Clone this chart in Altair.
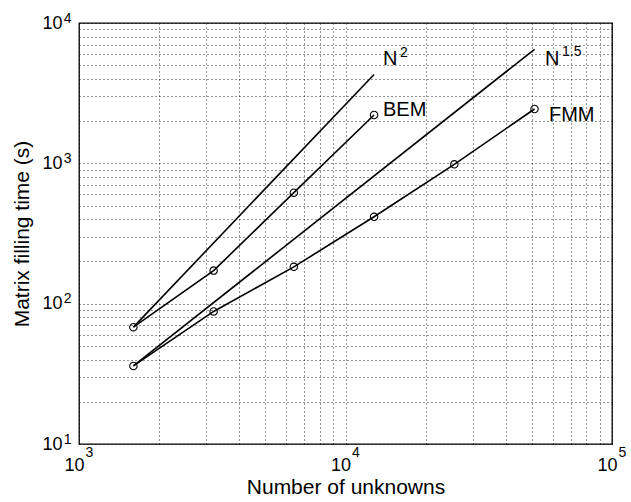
import altair as alt
import pandas as pd

# ---- data ----
n_bem = [1600, 3200, 6400, 12800]
t_bem = [68, 172, 618, 2210]
n_fmm = [1600, 3200, 6400, 12800, 25600, 51200]
t_fmm = [36, 88, 183, 416, 984, 2440]
n_n2 = [1600, 12800]
t_n2 = [68, 4300]
n_n15 = [1600, 51200]
t_n15 = [36, 6500]

# annotation anchors (data coordinates) and texts
lab_text = ["N", "BEM", "N", "FMM"]
lab_x = [13825, 13825, 56050, 58020]
lab_y = [5021, 2175, 5021, 2002]
sup_text = ["2", "1.5"]
sup_x = [16015, 64930]
sup_y = [5723, 5818]

x_ticks = [k * 10 ** e for e in (3, 4) for k in range(1, 10)] + [100000]
y_ticks = [k * 10 ** e for e in (1, 2, 3) for k in range(1, 10)] + [10000]
x_decades = [1000, 10000, 100000]
y_decades = [10, 100, 1000, 10000]

FONT = "Liberation Sans"

lines = pd.concat([
    pd.DataFrame({"n": n_bem, "t": t_bem, "s": "BEM"}),
    pd.DataFrame({"n": n_fmm, "t": t_fmm, "s": "FMM"}),
    pd.DataFrame({"n": n_n2, "t": t_n2, "s": "N2"}),
    pd.DataFrame({"n": n_n15, "t": t_n15, "s": "N15"}),
])
points = lines[lines["s"].isin(["BEM", "FMM"])]
labels = pd.DataFrame({"x": lab_x, "y": lab_y, "text": lab_text})
sups = pd.DataFrame({"x": sup_x, "y": sup_y, "text": sup_text})

xscale = alt.Scale(type="log", domain=[1000, 100000], nice=False)
yscale = alt.Scale(type="log", domain=[10, 10000], nice=False)

xaxis = alt.Axis(
    values=x_ticks, orient="bottom",
    labelExpr="datum.value == 1000 || datum.value == 10000 || datum.value == 100000 ? '10' : ''",
    title="Number of unknowns",
    labelPadding=12, labelOffset=-5, titlePadding=2,
)
yaxis = alt.Axis(
    values=y_ticks, orient="left",
    labelExpr="datum.value == 10 || datum.value == 100 || datum.value == 1000 || datum.value == 10000 ? '10' : ''",
    title="Matrix filling time (s)",
    labelPadding=17, titlePadding=9,
)
xexp = alt.Axis(
    values=x_decades, orient="bottom", grid=False, title=None,
    labelExpr="datum.value == 1000 ? '3' : datum.value == 10000 ? '4' : '5'",
    labelFontSize=14, labelPadding=1, labelOffset=10,
)
yexp = alt.Axis(
    values=y_decades, orient="left", grid=False, title=None,
    labelExpr="datum.value == 10 ? '1' : datum.value == 100 ? '2' : datum.value == 1000 ? '3' : '4'",
    labelFontSize=14, labelPadding=8, labelOffset=-5,
)

base_line = alt.Chart(lines).mark_line(color="black", strokeWidth=1.6).encode(
    x=alt.X("n:Q", scale=xscale, axis=xaxis),
    y=alt.Y("t:Q", scale=yscale, axis=yaxis),
    detail="s:N",
)
expo = alt.Chart(points).mark_point(opacity=0).encode(
    x=alt.X("n:Q", scale=xscale, axis=xexp),
    y=alt.Y("t:Q", scale=yscale, axis=yexp),
)
pts = alt.Chart(points).mark_point(
    shape="circle", filled=False, color="black", size=55, strokeWidth=1.1, opacity=1
).encode(x=alt.X("n:Q", scale=xscale, axis=None), y=alt.Y("t:Q", scale=yscale, axis=None))

txt = alt.Chart(labels).mark_text(
    align="left", baseline="alphabetic", fontSize=20, font=FONT, color="black"
).encode(x=alt.X("x:Q", scale=xscale, axis=None), y=alt.Y("y:Q", scale=yscale, axis=None), text="text:N")

stxt = alt.Chart(sups).mark_text(
    align="left", baseline="alphabetic", fontSize=14, font=FONT, color="black"
).encode(x=alt.X("x:Q", scale=xscale, axis=None), y=alt.Y("y:Q", scale=yscale, axis=None), text="text:N")

chart = alt.layer(base_line, expo, pts, txt, stxt).resolve_axis(
    x="independent", y="independent"
).properties(
    width=533, height=421,
    autosize=alt.AutoSizeParams(type="none"),
    padding={"left": 79, "top": 23, "right": 19, "bottom": 58},
    background="white",
).configure_view(
    stroke="black", strokeWidth=1.3
).configure_axis(
    domain=False, ticks=False,
    grid=True, gridColor="black", gridDash=[1, 3], gridWidth=1, gridOpacity=0.85,
    labelFont=FONT, labelFontSize=18, labelColor="black",
    labelOverlap=False, labelFlush=False,
    titleFont=FONT, titleFontSize=21, titleFontWeight="normal", titleColor="black",
)

chart.save("out.html", embed_options={"renderer": "svg", "actions": False})
